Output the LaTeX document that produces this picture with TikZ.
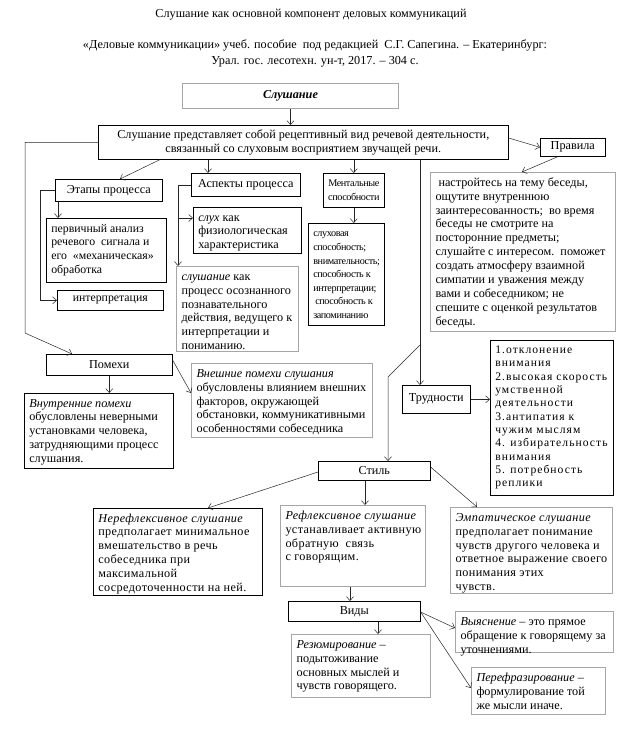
\documentclass[tikz,border=0pt]{standalone}
\usepackage{fontspec}
\setmainfont{Liberation Serif}
\newfontfamily\spacedfont[LetterSpace=9]{Liberation Serif}
\newfontfamily\widefont[LetterSpace=3.2]{Liberation Serif}
\newfontfamily\narrowfont[LetterSpace=-4]{Liberation Serif}
\usetikzlibrary{arrows.meta}

\tikzset{
  box/.style={draw=black, line width=0.6pt, font=\fontsize{12.2}{13.9}\selectfont},
  greybox/.style={draw=gray!70, line width=1pt, font=\fontsize{12.2}{13.9}\selectfont},
  midbox/.style={box, font=\fontsize{11.8}{13.9}\selectfont},
  smallbox/.style={box, font=\narrowfont\fontsize{10.2}{13.6}\selectfont},
  spacedbox/.style={box, font=\spacedfont\fontsize{11.6}{13.3}\selectfont},
  widebox/.style={box, font=\widefont\fontsize{12.2}{13.9}\selectfont},
  widegrey/.style={greybox, font=\widefont\fontsize{12.2}{13.9}\selectfont},
  conn/.style={draw=black!85, line width=0.5pt},
  arr/.style={conn, -{Straight Barb[length=4pt,width=7pt]}},
}

% box with lines set from its top left corner
\newcommand{\txtbox}[7]{%
  \pgfmathsetmacro{\boxw}{#4-#2}\pgfmathsetmacro{\boxh}{#5-#3}%
  \pgfmathsetmacro{\innerw}{#4-#2-10}\pgfmathsetmacro{\innerh}{#5-#3-8}%
  \node[#6, anchor=north west, inner sep=0pt,
        minimum width=\boxw pt, minimum height=\boxh pt]
    (#1) at (#2,#3)
    {\parbox[c][\innerh pt][t]{\innerw pt}{\begin{tabular}{@{}l@{}}#7\end{tabular}}};%
}
% box with a centred label
\newcommand{\lblbox}[7]{%
  \pgfmathsetmacro{\boxw}{#4-#2}\pgfmathsetmacro{\boxh}{#5-#3}%
  \node[#6, anchor=north west, inner sep=0pt, align=center,
        minimum width=\boxw pt, minimum height=\boxh pt]
    (#1) at (#2,#3) {#7};%
}

\begin{document}
\begin{tikzpicture}[x=1pt,y=-1pt]
  \useasboundingbox (0,0) rectangle (618,736);

  \node[font=\fontsize{12.2}{14}\selectfont] (title) at (311,15)
    {Слушание как основной компонент деловых коммуникаций};
  \node[font=\fontsize{12.2}{16}\selectfont, align=center] (source) at (315,53)
    {«Деловые коммуникации» учеб. пособие\ \ под редакцией\ \ С.Г. Сапегина. – Екатеринбург:\\
     Урал. гос. лесотехн. ун-т, 2017. – 304 с.};

  % top
  \lblbox{slush}{182}{83}{398}{108}{greybox}{\textbf{\textit{Слушание}}}
  \lblbox{main}{98}{125}{508}{159}{box}
    {Слушание представляет собой рецептивный вид речевой деятельности,\\
     связанный со слуховым восприятием звучащей речи.}
  \lblbox{pravila}{540}{138}{605}{156}{box}{Правила}
  \txtbox{rules}{430}{172}{615}{331}{greybox}
    {\hspace{3pt}настройтесь на тему беседы,\\ ощутите внутреннюю\\
     заинтересованность;\ \ во время\\ беседы не смотрите на\\
     посторонние предметы;\\ слушайте с интересом.\ \ поможет\\
     создать атмосферу взаимной\\ симпатии и уважения между\\
     вами и собеседником; не\\ спешите с оценкой результатов\\ беседы.}

  % process
  \lblbox{etapy}{55}{179}{162}{201}{box}{Этапы процесса}
  \lblbox{aspekty}{191}{173}{300}{196}{box}{Аспекты процесса}
  \lblbox{mental}{323}{173}{384}{207}{smallbox}{Ментальные\\способности}
  \txtbox{pervich}{46}{218}{166}{282}{midbox}
    {первичный анализ\\ речевого\ \ сигнала и\\ его\ \ «механическая»\\ обработка}
  \txtbox{sluh}{193}{207}{301}{253}{box}
    {\textit{слух} как\\ физиологическая\\ характеристика}
  \txtbox{sluhov}{308}{223}{384}{325}{smallbox}
    {слуховая\\ способность;\\ внимательность;\\ способность к\\
     интерпретации;\\ \hspace{2pt}способность к\\ запоминанию}
  \lblbox{interp}{57}{290}{163}{310}{midbox}{интерпретация}
  \txtbox{slushproc}{176}{266}{298}{351}{greybox}
    {\textit{слушание} как\\ процесс осознанного\\ познавательного\\
     действия, ведущего к\\ интерпретации и\\ пониманию.}

  % noise
  \lblbox{pomehi}{46}{354}{172}{375}{box}{Помехи}
  \txtbox{vnutr}{24}{393}{173}{468}{box}
    {\textit{Внутренние помехи}\\ обусловлены неверными\\ установками человека,\\
     затрудняющими процесс\\ слушания.}
  \txtbox{vnesh}{191}{363}{372}{437}{greybox}
    {\textit{Внешние помехи слушания}\\ обусловлены влиянием внешних\\
     факторов, окружающей\\ обстановки, коммуникативными\\ особенностями собеседника}

  % difficulties
  \lblbox{trudn}{402}{385}{470}{413}{box}{Трудности}
  \txtbox{list}{490}{340}{613}{495}{spacedbox}
    {1.отклонение\\ внимания\\ 2.высокая скорость\\ умственной\\ деятельности\\
     3.антипатия к\\ чужим мыслям\\ 4. избирательность\\ внимания\\
     5. потребность\\ реплики}

  % style
  \lblbox{stil}{318}{461}{430}{480}{box}{Стиль}
  \txtbox{neref}{93}{508}{262}{595}{widebox}
    {\textit{Нерефлексивное слушание}\\ предполагает минимальное\\
     вмешательство в речь\\ собеседника при\\ максимальной\\
     сосредоточенности на ней.}
  \txtbox{ref}{280}{505}{425}{586}{widegrey}
    {\textit{Рефлексивное слушание}\\ устанавливает активную\\
     обратную\ \ связь\\ с говорящим.}
  \txtbox{empat}{450}{507}{612}{593}{widegrey}
    {\textit{Эмпатическое слушание}\\ предполагает понимание\\
     чувств другого человека и\\ ответное выражение своего\\
     понимания этих\\ чувств.}

  % kinds
  \lblbox{vidy}{288}{601}{420}{621}{box}{Виды}
  \txtbox{rezum}{291}{634}{430}{697}{greybox}
    {\textit{Резюмирование} –\\ подытоживание\\ основных мыслей и\\ чувств говорящего.}
  \txtbox{vyyasn}{455}{611}{613}{652}{greybox}
    {\textit{Выяснение} – это прямое\\ обращение к говорящему за\\ уточнениями.}
  \txtbox{perefr}{471}{667}{605}{714}{greybox}
    {\textit{Перефразирование} –\\ формулирование той\\ же мысли иначе.}

  % connectors
  \draw[arr] (slush.south) -- (slush.south |- main.north);
  \draw[arr] (main.west) -| (25,333) -- ([xshift=26pt]pomehi.north west);
  \draw[arr] ([xshift=62pt]main.south west) -- ([xshift=65pt]etapy.north west);
  \draw[arr] ([xshift=17pt]aspekty.north west |- main.south) -- ([xshift=17pt]aspekty.north west);
  \draw[arr] (mental.north |- main.south) -- (mental.north);
  \draw[arr] ([yshift=-13pt]main.north east) -- (pravila.west);
  \draw[arr] ([xshift=18pt]pravila.south west) -- ([xshift=92pt]rules.north west);
  \draw[arr] ([xshift=322pt]main.south west) -- ([xshift=18pt]trudn.north west);
  \coordinate (split) at (420,345);
  \draw[arr] (split) -- (388,377) -- ([xshift=70pt]stil.north west);

  \draw[arr] ([xshift=3pt]etapy.south west) -- ([xshift=12pt]pervich.north west);
  \draw[arr] (etapy.west) -- ++(-15,0) |- (interp.west);
  \draw[arr] (aspekty.west) -- ++(-13,0) |- ([yshift=-11pt]sluh.north west);
  \draw[arr] ([xshift=-13pt]aspekty.west) -- ([xshift=2pt]slushproc.north west);
  \draw[arr] (mental.south) -- (mental.south |- sluhov.north);

  \draw[arr] (pomehi.south) -- (pomehi.south |- vnutr.north);
  \draw[arr] ([yshift=-6pt]pomehi.north east) -- ([yshift=-30pt]vnesh.north west);
  \draw[arr] (trudn.east) -- (trudn.east -| list.west);

  \draw[arr] ([yshift=-11pt]stil.north west) -- ([xshift=115pt]neref.north west);
  \draw[arr] ([xshift=47pt]stil.south west) -- ([xshift=47pt]stil.south west |- ref.north);
  \draw[arr] ([yshift=-6pt]stil.north east) -- ([xshift=27pt]empat.north west);
  \draw[arr] ([xshift=70pt]ref.south west) -- ([xshift=70pt]ref.south west |- vidy.north);
  \draw[arr] ([xshift=90pt]vidy.south west) -- ([xshift=90pt]vidy.south west |- rezum.north);
  \draw[arr] ([yshift=-11pt]vidy.north east) -- ([yshift=-17pt]vyyasn.north west);
  \draw[arr] ([yshift=-11pt]vidy.north east) -- ([yshift=-21pt]perefr.north west);
\end{tikzpicture}
\end{document}
